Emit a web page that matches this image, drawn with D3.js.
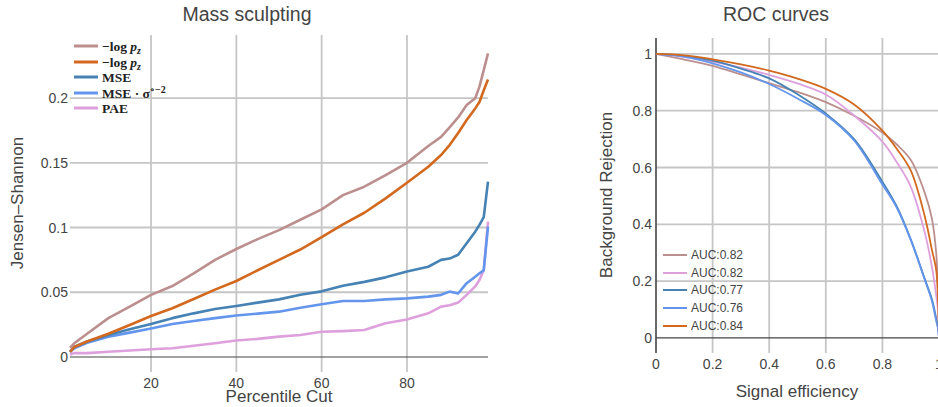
<!DOCTYPE html>
<html>
<head>
<meta charset="utf-8">
<script src="https://d3js.org/d3.v7.min.js"></script>
<style>
  body { margin: 0; background: #fff; }
  svg text { font-family: "Liberation Sans", Arial, sans-serif; fill: #444; }
  .leg text { font-family: "Liberation Serif", "DejaVu Serif", serif; font-weight: bold; fill: #222; }
</style>
</head>
<body>
<svg width="938" height="407"></svg>
<script>
// ---- mass sculpting data (percentile cut vs Jensen-Shannon) ----
const cuts = [1, 2, 5, 10, 15, 20, 25, 30, 35, 40, 45, 50, 55, 60, 65, 70, 75, 80, 85, 88, 90, 92, 94, 96, 97, 98, 99];
const jsLogPz1 = [0.007, 0.0106, 0.018, 0.030, 0.0389, 0.048, 0.0548, 0.0646, 0.075, 0.0834, 0.091, 0.098, 0.106, 0.114, 0.125, 0.1315, 0.1405, 0.150, 0.163, 0.170, 0.1774, 0.185, 0.1946, 0.1998, 0.2088, 0.2216, 0.2345];
const jsLogPz2 = [0.004, 0.0077, 0.012, 0.018, 0.0247, 0.0317, 0.0376, 0.0448, 0.052, 0.0587, 0.067, 0.075, 0.083, 0.0925, 0.1025, 0.1114, 0.1225, 0.1346, 0.147, 0.156, 0.1637, 0.173, 0.183, 0.192, 0.197, 0.206, 0.2144];
const jsMSE = [0.004, 0.0077, 0.012, 0.017, 0.0214, 0.0255, 0.030, 0.0337, 0.037, 0.0394, 0.042, 0.0445, 0.048, 0.0507, 0.055, 0.058, 0.0615, 0.066, 0.0697, 0.075, 0.076, 0.079, 0.0878, 0.0968, 0.102, 0.108, 0.1354];
const jsMSESig = [0.004, 0.0067, 0.011, 0.0157, 0.0188, 0.022, 0.0255, 0.0278, 0.030, 0.032, 0.0335, 0.035, 0.038, 0.0407, 0.0432, 0.0432, 0.0445, 0.0453, 0.0466, 0.048, 0.0505, 0.049, 0.057, 0.062, 0.0646, 0.067, 0.1006];
const jsPAE = [0.002, 0.003, 0.003, 0.004, 0.005, 0.006, 0.0067, 0.0087, 0.0106, 0.0127, 0.014, 0.0157, 0.017, 0.0195, 0.0200, 0.0208, 0.026, 0.029, 0.0337, 0.0389, 0.040, 0.042, 0.048, 0.0545, 0.0595, 0.067, 0.1045];
const leftLabels = ["−log p_z", "−log p_z", "MSE", "MSE · σ^∘−2", "PAE"];
const leftColors = ["#bc8f8f", "#d2691e", "#4682b4", "#6495ed", "#dda0dd"];
const leftXTicks = [20, 40, 60, 80];
const leftYTicks = [0, 0.05, 0.1, 0.15, 0.2];

// ---- ROC data ----
const sigEff = [0, 0.1, 0.2, 0.3, 0.4, 0.5, 0.6, 0.7, 0.8, 0.85, 0.9, 0.95, 0.975, 0.99, 0.996, 1];
const rocA = [1, 0.98, 0.958, 0.928, 0.897, 0.866, 0.83, 0.782, 0.723, 0.682, 0.627, 0.51, 0.42, 0.30, 0.18, 0];
const rocB = [1, 0.99, 0.973, 0.952, 0.926, 0.896, 0.857, 0.783, 0.691, 0.62, 0.533, 0.37, 0.25, 0.15, 0.10, 0];
const rocC = [1, 0.993, 0.976, 0.948, 0.914, 0.858, 0.79, 0.70, 0.55, 0.465, 0.348, 0.207, 0.136, 0.07, 0.04, 0];
const rocD = [1, 0.99, 0.967, 0.935, 0.894, 0.843, 0.785, 0.695, 0.54, 0.46, 0.345, 0.204, 0.13, 0.06, 0.035, 0];
const rocE = [1, 0.995, 0.981, 0.963, 0.941, 0.913, 0.877, 0.822, 0.73, 0.667, 0.59, 0.427, 0.31, 0.24, 0.15, 0];
const rocLabels = ["AUC:0.82", "AUC:0.82", "AUC:0.77", "AUC:0.76", "AUC:0.84"];
const rocColors = ["#bc8f8f", "#dda0dd", "#4682b4", "#6495ed", "#d2691e"];
const rocTicks = [0, 0.2, 0.4, 0.6, 0.8, 1];

const svg = d3.select("svg");
const gridCol = "#c6c6c6";

// ===== left: Mass sculpting =====
const x1 = d3.scaleLinear().domain([1, 99]).range([70, 488]);
const y1 = d3.scaleLinear().domain([-0.0116, 0.2487]).range([372, 35]);

const g1 = svg.append("g");
g1.selectAll(".vg").data(leftXTicks).enter().append("line")
  .attr("x1", d => x1(d)).attr("x2", d => x1(d))
  .attr("y1", 35).attr("y2", 372)
  .attr("stroke", gridCol).attr("stroke-width", 1.8);
g1.selectAll(".hg").data(leftYTicks.filter(d => d > 0)).enter().append("line")
  .attr("x1", 70).attr("x2", 488)
  .attr("y1", d => y1(d)).attr("y2", d => y1(d))
  .attr("stroke", gridCol).attr("stroke-width", 1.8);
g1.append("line").attr("x1", 70).attr("x2", 488).attr("y1", y1(0)).attr("y2", y1(0))
  .attr("stroke", "#444").attr("stroke-width", 1.2);

g1.selectAll(".xt").data(leftXTicks).enter().append("text")
  .attr("x", d => x1(d)).attr("y", 388).attr("text-anchor", "middle")
  .style("font-size", "14px").text(d => d);
g1.selectAll(".yt").data(leftYTicks).enter().append("text")
  .attr("x", 68).attr("y", d => y1(d) + 5).attr("text-anchor", "end")
  .style("font-size", "14px").text(d => d3.format("~g")(d));

const leftSeries = [jsLogPz1, jsLogPz2, jsMSE, jsMSESig, jsPAE];
const line1 = d3.line().x((d, i) => x1(cuts[i])).y(d => y1(d));
// draw in reverse so the first series sits on top
leftSeries.slice().reverse().forEach((s, k) => {
  const i = leftSeries.length - 1 - k;
  g1.append("path").datum(s).attr("d", line1)
    .attr("fill", "none").attr("stroke", leftColors[i]).attr("stroke-width", 2.6)
    .attr("stroke-linejoin", "round");
});

svg.append("text").attr("x", 247).attr("y", 21).attr("text-anchor", "middle")
  .style("font-size", "19.5px").text("Mass sculpting");
svg.append("text").attr("x", 279).attr("y", 402).attr("text-anchor", "middle")
  .style("font-size", "17px").text("Percentile Cut");
svg.append("text").attr("transform", "translate(23,203) rotate(-90)").attr("text-anchor", "middle")
  .style("font-size", "17px").text("Jensen–Shannon");

// legend labels: "_x" = subscript, "^x" = superscript, p is italic
function mathLabel(sel, str) {
  const parts = str.match(/[_^][^ ]+|[^_^]+/g);
  let shift = 0;
  parts.forEach(p => {
    let t;
    if (p[0] === "_" || p[0] === "^") {
      const want = p[0] === "_" ? 3 : -5;
      t = sel.append("tspan").attr("dy", want - shift).style("font-size", "10px").text(p.slice(1));
      if (p[0] === "_") t.style("font-style", "italic");
      shift = want;
    } else if (p.indexOf("p") >= 0) {
      const j = p.lastIndexOf("p");
      sel.append("tspan").attr("dy", -shift).text(p.slice(0, j));
      sel.append("tspan").style("font-style", "italic").text("p");
      shift = 0;
    } else {
      sel.append("tspan").attr("dy", -shift).text(p);
      shift = 0;
    }
  });
}
const leg1 = svg.append("g").attr("class", "leg");
const legRows1 = [46, 62, 77, 93, 108];
leftLabels.forEach((lab, i) => {
  leg1.append("line").attr("x1", 74).attr("x2", 98).attr("y1", legRows1[i]).attr("y2", legRows1[i])
    .attr("stroke", leftColors[i]).attr("stroke-width", 3);
  const t = leg1.append("text").attr("x", 102).attr("y", legRows1[i] + 4.5).style("font-size", "13.5px");
  mathLabel(t, lab);
});

// ===== right: ROC curves =====
const x2 = d3.scaleLinear().domain([0, 1]).range([656, 939]);
const y2 = d3.scaleLinear().domain([-0.053, 1.056]).range([353, 38]);

const g2 = svg.append("g");
g2.selectAll(".vg").data(rocTicks.filter(d => d > 0)).enter().append("line")
  .attr("x1", d => x2(d)).attr("x2", d => x2(d))
  .attr("y1", 38).attr("y2", 353)
  .attr("stroke", gridCol).attr("stroke-width", 1.8);
g2.selectAll(".hg").data(rocTicks.filter(d => d > 0)).enter().append("line")
  .attr("x1", 656).attr("x2", 939)
  .attr("y1", d => y2(d)).attr("y2", d => y2(d))
  .attr("stroke", gridCol).attr("stroke-width", 1.8);
g2.append("line").attr("x1", 656).attr("x2", 939).attr("y1", y2(0)).attr("y2", y2(0))
  .attr("stroke", "#444").attr("stroke-width", 1.2);
g2.append("line").attr("x1", x2(0)).attr("x2", x2(0)).attr("y1", 38).attr("y2", 353)
  .attr("stroke", "#444").attr("stroke-width", 1.6);

g2.selectAll(".xt").data(rocTicks).enter().append("text")
  .attr("x", d => x2(d)).attr("y", 369).attr("text-anchor", "middle")
  .style("font-size", "14px").text(d => d3.format("~g")(d));
g2.selectAll(".yt").data(rocTicks).enter().append("text")
  .attr("x", 652).attr("y", d => y2(d) + 5).attr("text-anchor", "end")
  .style("font-size", "14px").text(d => d3.format("~g")(d));

const rocSeries = [rocA, rocB, rocC, rocD, rocE];
const line2 = d3.line().x((d, i) => x2(sigEff[i])).y(d => y2(d)).curve(d3.curveCatmullRom.alpha(0.5));
rocSeries.forEach((s, i) => {
  g2.append("path").datum(s).attr("d", line2)
    .attr("fill", "none").attr("stroke", rocColors[i]).attr("stroke-width", 1.8);
});

svg.append("text").attr("x", 776).attr("y", 21).attr("text-anchor", "middle")
  .style("font-size", "19.5px").text("ROC curves");
svg.append("text").attr("x", 797).attr("y", 397).attr("text-anchor", "middle")
  .style("font-size", "17px").text("Signal efficiency");
svg.append("text").attr("transform", "translate(612,195) rotate(-90)").attr("text-anchor", "middle")
  .style("font-size", "17px").text("Background Rejection");

const legRows2 = [255, 273, 290, 308, 326];
rocLabels.forEach((lab, i) => {
  svg.append("line").attr("x1", 663).attr("x2", 687).attr("y1", legRows2[i]).attr("y2", legRows2[i])
    .attr("stroke", rocColors[i]).attr("stroke-width", 2);
  svg.append("text").attr("x", 691).attr("y", legRows2[i] + 4.3).style("font-size", "12px").text(lab);
});
</script>
</body>
</html>
